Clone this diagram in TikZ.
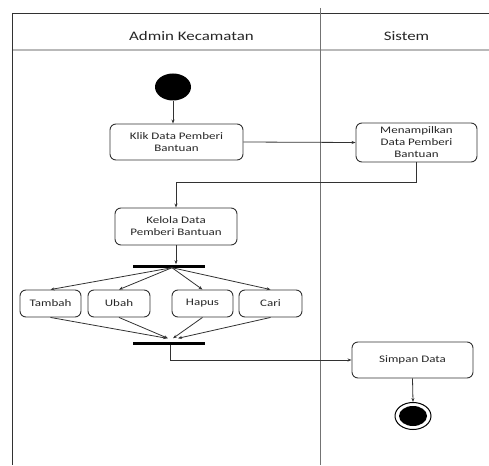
\documentclass[tikz,border=0pt]{standalone}
\usepackage{fontspec}
\setmainfont{Carlito}[FakeStretch=1.3]
\usetikzlibrary{arrows.meta,shapes.geometric}
\definecolor{ln}{RGB}{50,50,50}
\definecolor{sep}{RGB}{185,185,185}
\tikzset{
  act/.style={draw=ln,line width=0.9pt,rounded corners=6pt,align=center,font=\fontsize{10}{12}\selectfont,text=black!85,inner sep=0pt},
  bar/.style={fill=black,draw=none,minimum width=72pt,minimum height=3pt,inner sep=0pt},
  flow/.style={draw=ln,line width=0.8pt,-{Stealth[length=4pt,width=3pt]}},
  hdr/.style={font=\fontsize{13}{15}\selectfont,text=black!85},
}
\begin{document}
\begin{tikzpicture}[x=1pt,y=-1pt]
\useasboundingbox (0,0) rectangle (489,465);
% frame
\draw[ln,line width=0.8pt] (12,13) -- (489,13);
\draw[sep,line width=1.2pt] (12,50) -- (489,50);
\draw[ln,line width=0.9pt] (12,13) -- (12,465);
\draw[black!55,line width=0.6pt] (320,8) -- (320,465);
\node[hdr] (h1) at (191.5,36) {Admin Kecamatan};
\node[hdr] (h2) at (406.5,36) {Sistem};
% nodes
\node[ellipse,fill=black,minimum width=36pt,minimum height=27pt,inner sep=0pt] (start) at (173,87) {};
\node[act,minimum width=133pt,minimum height=36pt] (klik) at (176.5,142) {Klik Data Pemberi\\Bantuan};
\node[act,minimum width=121pt,minimum height=39pt] (men) at (416.5,142.5) {Menampilkan\\Data Pemberi\\Bantuan};
\node[act,minimum width=122pt,minimum height=37pt] (kelola) at (176,226.5) {Kelola Data\\Pemberi Bantuan};
\node[bar] (fork) at (169,266) {};
\node[act,minimum width=61pt,minimum height=27pt] (tambah) at (50.5,303.5) {Tambah};
\node[act,minimum width=62pt,minimum height=27pt] (ubah) at (119,303.5) {Ubah};
\node[act,minimum width=61pt,minimum height=27pt] (hapus) at (202.5,303.5) {Hapus};
\node[act,minimum width=63pt,minimum height=27pt] (cari) at (270.5,303.5) {Cari};
\node[bar] (join) at (169,343) {};
\node[act,minimum width=121pt,minimum height=36pt] (simpan) at (412.5,360) {Simpan Data};
\node[ellipse,draw=black,line width=1pt,minimum width=36pt,minimum height=27pt,inner sep=0pt] (end) at (413,416) {};
\node[ellipse,fill=black,minimum width=28pt,minimum height=20pt,inner sep=0pt] (endin) at (413,416) {};
% connectors
\draw[flow] (start.south) -- (start.south |- klik.north);
\draw[flow] (klik.east) -- (men.west);
\draw[flow] (men.south) -- ++(0,20) -| (kelola.north);
\draw[flow] (kelola.south) -- (kelola.south |- fork.north);
\coordinate (fk) at ([xshift=3pt]fork.south);
\draw[flow] (fk) -- (tambah.north);
\draw[flow] (fk) -- (ubah.north);
\draw[flow] (fk) -- (hapus.north);
\draw[flow] (fk) -- (cari.north);
\draw[flow] (tambah.south) -- ([xshift=-2pt,yshift=3pt]join.north);
\draw[flow] (ubah.south) -- ([xshift=-1pt,yshift=3pt]join.north);
\draw[flow] (hapus.south) -- ([xshift=4pt,yshift=3pt]join.north);
\draw[flow] (cari.south) -- ([xshift=9pt,yshift=3pt]join.north);
\draw[flow] ([xshift=1pt]join.south) |- (simpan.west);
\draw[flow] (simpan.south) -- (end.north);
\end{tikzpicture}
\end{document}
